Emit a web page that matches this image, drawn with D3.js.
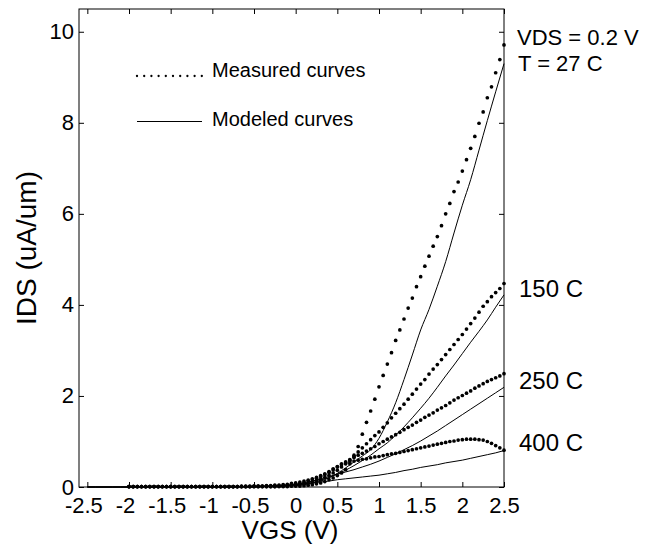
<!DOCTYPE html>
<html>
<head>
<meta charset="utf-8">
<script src="https://cdn.jsdelivr.net/npm/d3@7/dist/d3.min.js"></script>
<style>
  html, body { margin: 0; padding: 0; background: #fff; }
  svg { display: block; font-family: "Liberation Sans", Arial, Helvetica, sans-serif; }
</style>
</head>
<body>
<svg id="chart" width="652" height="550"></svg>
<script>
// Gate sweep of the measured points (V)
const measV = [-2,-1.95,-1.9,-1.85,-1.8,-1.75,-1.7,-1.65,-1.6,-1.55,
  -1.5,-1.45,-1.4,-1.35,-1.3,-1.25,-1.2,-1.15,-1.1,-1.05,
  -1,-0.95,-0.9,-0.85,-0.8,-0.75,-0.7,-0.65,-0.6,-0.55,
  -0.5,-0.45,-0.4,-0.35,-0.3,-0.25,-0.2,-0.15,-0.1,-0.05,
  0,0.05,0.1,0.15,0.2,0.25,0.3,0.35,0.4,0.45,
  0.5,0.55,0.6,0.65,0.7,0.75,0.8,0.85,0.9,0.95,
  1,1.05,1.1,1.15,1.2,1.25,1.3,1.35,1.4,1.45,
  1.5,1.55,1.6,1.65,1.7,1.75,1.8,1.85,1.9,1.95,
  2,2.05,2.1,2.15,2.2,2.25,2.3,2.35,2.4,2.45,
  2.5];

// Measured IDS (uA/um)
const meas27 = [0.01,0.01,0.01,0.01,0.01,0.01,0.01,0.01,0.01,0.01,
  0.01,0.01,0.01,0.01,0.01,0.01,0.01,0.01,0.01,0.01,
  0.01,0.01,0.01,0.01,0.01,0.01,0.01,0.01,0.01,0.01,
  0.01,0.01,0.01,0.01,0.01,0.01,0.01,0.01,0.01,0.02,
  0.02,0.02,0.03,0.04,0.05,0.07,0.09,0.12,0.16,0.20,
  0.25,0.31,0.38,0.51,0.70,0.89,1.16,1.42,1.67,1.93,
  2.20,2.45,2.70,2.95,3.22,3.45,3.69,3.93,4.15,4.40,
  4.62,4.85,5.07,5.29,5.50,5.74,6.00,6.23,6.49,6.70,
  6.94,7.19,7.44,7.70,7.99,8.24,8.55,8.79,9.10,9.39,
  9.71];
const meas150 = [0.01,0.01,0.01,0.01,0.01,0.01,0.01,0.01,0.01,0.01,
  0.01,0.01,0.01,0.01,0.01,0.01,0.01,0.01,0.01,0.01,
  0.01,0.01,0.01,0.01,0.01,0.01,0.01,0.01,0.01,0.01,
  0.01,0.01,0.01,0.01,0.01,0.01,0.02,0.02,0.03,0.03,
  0.04,0.05,0.07,0.09,0.11,0.14,0.17,0.21,0.26,0.31,
  0.37,0.44,0.51,0.59,0.67,0.77,0.86,0.95,1.04,1.13,
  1.21,1.31,1.41,1.52,1.62,1.72,1.82,1.93,2.04,2.15,
  2.26,2.36,2.48,2.59,2.69,2.80,2.91,3.02,3.13,3.24,
  3.35,3.47,3.59,3.71,3.84,3.97,4.07,4.18,4.27,4.36,
  4.47];
const meas250 = [0.01,0.01,0.01,0.01,0.01,0.01,0.01,0.01,0.01,0.01,
  0.01,0.01,0.01,0.01,0.01,0.01,0.01,0.01,0.01,0.01,
  0.01,0.01,0.01,0.01,0.01,0.01,0.01,0.01,0.01,0.01,
  0.02,0.02,0.02,0.02,0.02,0.03,0.03,0.04,0.04,0.05,
  0.07,0.08,0.10,0.13,0.16,0.19,0.23,0.27,0.32,0.38,
  0.44,0.51,0.55,0.60,0.65,0.70,0.74,0.79,0.84,0.89,
  0.95,1.00,1.05,1.10,1.15,1.20,1.26,1.31,1.36,1.42,
  1.47,1.53,1.58,1.63,1.69,1.74,1.79,1.85,1.91,1.96,
  2.01,2.06,2.11,2.17,2.22,2.27,2.32,2.36,2.40,2.44,
  2.49];
const meas400 = [0.01,0.01,0.01,0.01,0.01,0.01,0.01,0.01,0.01,0.01,
  0.01,0.01,0.01,0.01,0.01,0.01,0.01,0.01,0.01,0.01,
  0.01,0.01,0.01,0.01,0.01,0.01,0.01,0.02,0.02,0.02,
  0.02,0.02,0.02,0.03,0.03,0.04,0.04,0.05,0.06,0.08,
  0.09,0.11,0.13,0.15,0.18,0.21,0.25,0.29,0.34,0.40,
  0.45,0.49,0.53,0.55,0.57,0.59,0.61,0.62,0.64,0.66,
  0.67,0.69,0.71,0.73,0.74,0.76,0.78,0.80,0.82,0.84,
  0.86,0.88,0.90,0.92,0.94,0.96,0.98,1.00,1.01,1.03,
  1.04,1.05,1.05,1.05,1.04,1.03,1.00,0.96,0.91,0.86,
  0.81];

// Gate voltages of the model evaluation (V)
const modelV = [-2.5,-2.4,-2.3,-2.2,-2.1,-2,-1.9,-1.8,-1.7,-1.6,
  -1.5,-1.4,-1.3,-1.2,-1.1,-1,-0.9,-0.8,-0.7,-0.6,
  -0.5,-0.4,-0.3,-0.2,-0.1,0,0.1,0.2,0.3,0.4,
  0.5,0.6,0.7,0.8,0.9,1,1.1,1.2,1.3,1.4,
  1.5,1.6,1.7,1.8,1.9,2,2.1,2.2,2.3,2.4,
  2.5];

// Modeled IDS (uA/um)
const model27 = [0,0,0,0,0,0,0,0,0,0,
  0,0,0,0,0,0,0,0,0,0,
  0.00,0.01,0.01,0.01,0.02,0.03,0.05,0.08,0.13,0.20,
  0.30,0.42,0.55,0.68,0.82,1.07,1.43,1.85,2.36,2.90,
  3.45,3.90,4.41,4.95,5.58,6.19,6.75,7.40,8.05,8.68,
  9.30];
const model150 = [0,0,0,0,0,0,0,0,0,0,
  0,0,0,0,0,0,0,0,0,0,
  0.01,0.01,0.02,0.02,0.03,0.05,0.07,0.10,0.15,0.21,
  0.29,0.37,0.47,0.58,0.70,0.84,0.97,1.14,1.32,1.52,
  1.73,1.95,2.19,2.44,2.68,2.93,3.18,3.42,3.67,3.95,
  4.22];
const model250 = [0,0,0,0,0,0,0,0,0,0,
  0,0,0,0,0,0,0,0,0.01,0.01,
  0.01,0.02,0.02,0.03,0.04,0.06,0.09,0.13,0.18,0.23,
  0.28,0.33,0.38,0.44,0.50,0.57,0.65,0.73,0.82,0.91,
  1.01,1.12,1.23,1.35,1.47,1.59,1.71,1.83,1.95,2.07,
  2.19];
const model400 = [0,0,0,0,0,0,0,0,0,0,
  0,0,0,0,0,0,0.01,0.01,0.01,0.01,
  0.01,0.02,0.02,0.03,0.04,0.05,0.07,0.09,0.11,0.13,
  0.16,0.18,0.20,0.22,0.24,0.26,0.29,0.32,0.36,0.39,
  0.43,0.46,0.49,0.53,0.56,0.59,0.63,0.67,0.71,0.75,
  0.80];

const xTicks = [-2.5,-2,-1.5,-1,-0.5,0,0.5,1,1.5,2,2.5];
const yTicks = [0,2,4,6,8,10];
const tempLabels = ["150 C", "250 C", "400 C"];
const legendLabels = ["Measured curves", "Modeled curves"];

const measured = [meas27, meas150, meas250, meas400];
const modeled = [model27, model150, model250, model400];

const svg = d3.select("#chart");
const plotL = 79, plotR = 504, plotT = 9, plotB = 487;

const x = d3.scaleLinear().domain([-2.6, 2.5]).range([plotL, plotR]);
const y = d3.scaleLinear().domain([0, 10.5]).range([plotB, plotT]);

// Modeled curves
const line = d3.line()
  .x((d, i) => x(modelV[i]))
  .y(d => y(d))
  .curve(d3.curveMonotoneX);
svg.append("g").selectAll("path")
  .data(modeled)
  .join("path")
  .attr("d", line)
  .attr("fill", "none")
  .attr("stroke", "#000")
  .attr("stroke-width", 1);

// Measured points
svg.append("g").selectAll("g")
  .data(measured)
  .join("g")
  .selectAll("circle")
  .data(s => s.map((v, i) => [measV[i], v]))
  .join("circle")
  .attr("cx", d => x(d[0]))
  .attr("cy", d => y(d[1]))
  .attr("r", 1.85)
  .attr("fill", "#000");

// Axes with inward ticks on all four sides
const fmt = d => String(d);
const gx = svg.append("g").attr("transform", `translate(0,${plotB})`)
  .call(d3.axisBottom(x).tickValues(xTicks).tickFormat(fmt).tickSizeInner(-5).tickSizeOuter(0).tickPadding(10));
gx.selectAll("text").attr("dx", d => d < 0 ? -4 : 0);
svg.append("g").attr("transform", `translate(0,${plotT})`)
  .call(d3.axisTop(x).tickValues(xTicks).tickFormat("").tickSizeInner(-5).tickSizeOuter(0));
svg.append("g").attr("transform", `translate(${plotL},0)`)
  .call(d3.axisLeft(y).tickValues(yTicks).tickFormat(fmt).tickSizeInner(-5).tickSizeOuter(0).tickPadding(5));
svg.append("g").attr("transform", `translate(${plotR},0)`)
  .call(d3.axisRight(y).tickValues(yTicks).tickFormat("").tickSizeInner(-5).tickSizeOuter(0));

svg.selectAll(".domain").remove();
svg.selectAll(".tick line").attr("stroke", "#000");
svg.selectAll(".tick text")
  .attr("fill", "#000")
  .style("font-family", "'Liberation Sans', Arial, sans-serif")
  .style("font-size", "22px");

svg.append("rect")
  .attr("x", plotL).attr("y", plotT)
  .attr("width", plotR - plotL).attr("height", plotB - plotT)
  .attr("fill", "none").attr("stroke", "#000").attr("stroke-width", 1);

// Axis titles
svg.append("text")
  .attr("x", 290).attr("y", 539)
  .attr("text-anchor", "middle")
  .style("font-size", "26px")
  .text("VGS (V)");
svg.append("text")
  .attr("transform", "translate(36,248) rotate(-90)")
  .attr("text-anchor", "middle")
  .style("font-size", "28px")
  .text("IDS (uA/um)");

// Legend
const legDots = [0,1,2,3,4,5,6,7,8,9];
svg.append("g").selectAll("circle")
  .data(legDots)
  .join("circle")
  .attr("cx", d => 137 + d * 7.2)
  .attr("cy", 76)
  .attr("r", 1.15)
  .attr("fill", "#000");
svg.append("line")
  .attr("x1", 137).attr("x2", 202)
  .attr("y1", 121.5).attr("y2", 121.5)
  .attr("stroke", "#000").attr("stroke-width", 1);
svg.append("g").selectAll("text")
  .data(legendLabels)
  .join("text")
  .attr("x", 212)
  .attr("y", (d, i) => 77 + i * 49)
  .style("font-size", "20px")
  .text(d => d);

// Curve labels at the right edge
svg.append("text").attr("x", 517).attr("y", 45).style("font-size", "22px").text("VDS = 0.2 V");
svg.append("text").attr("x", 518).attr("y", 71).style("font-size", "22px").text("T = 27 C");
const labelY = [296.5, 389, 451];
svg.append("g").selectAll("text")
  .data(tempLabels)
  .join("text")
  .attr("x", 519)
  .attr("y", (d, i) => labelY[i])
  .style("font-size", "24px")
  .text(d => d);
</script>
</body>
</html>
